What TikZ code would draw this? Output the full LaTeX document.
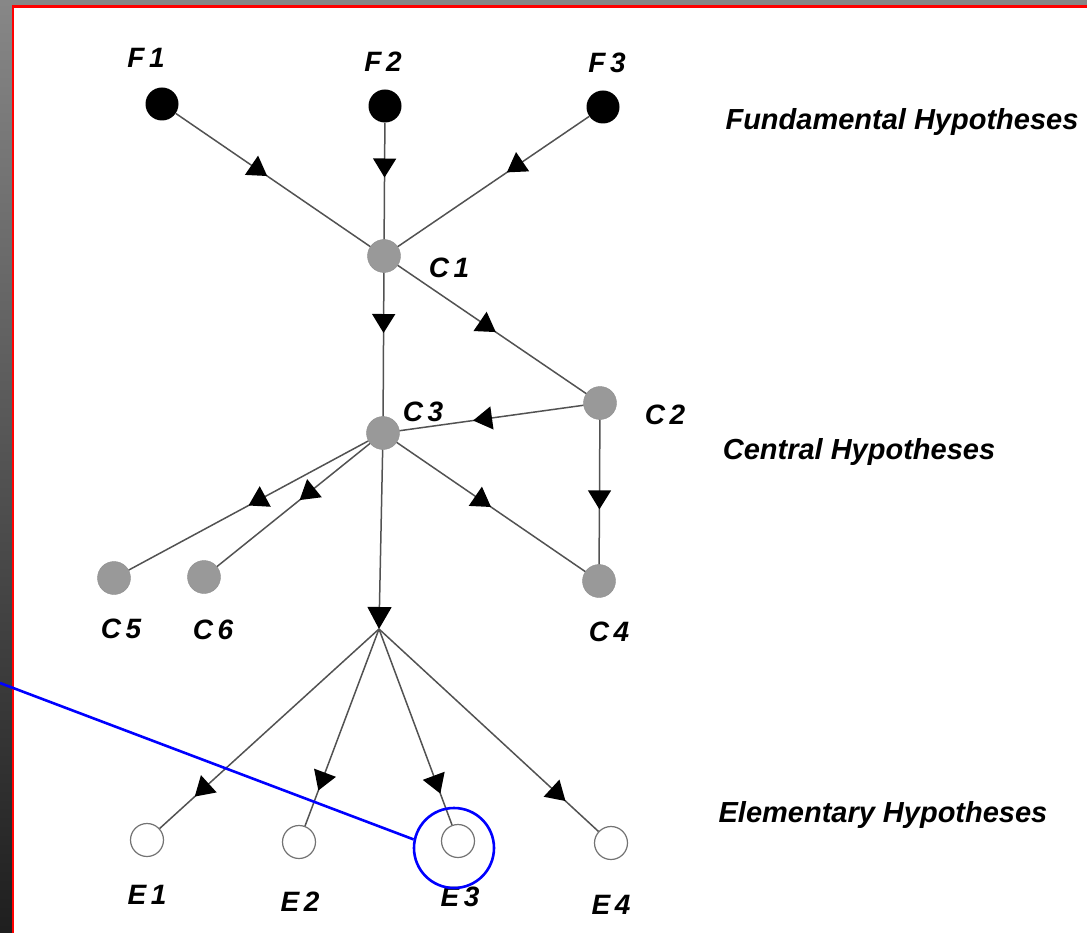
\documentclass[tikz,border=0pt]{standalone}
\usepackage{fontspec}
\setmainfont{Liberation Sans}
\usetikzlibrary{arrows.meta,positioning,decorations.markings}

\begin{document}
\begin{tikzpicture}[
  x=1pt, y=-1pt,
  every node/.style={font=\fontsize{28}{32}\selectfont\bfseries\itshape},
  fund/.style={circle, fill=black, minimum size=33pt, inner sep=0pt},
  cent/.style={circle, fill=black!40, draw=black!45, minimum size=33pt, inner sep=0pt},
  elem/.style={circle, fill=white, draw=black!55, line width=1.2pt, minimum size=33pt, inner sep=0pt},
  tag/.style={inner sep=0pt},
  level/.style={inner sep=0pt, font=\fontsize{29}{34}\selectfont\bfseries\itshape},
  edge/.style={draw=black!68, line width=1.5pt},
  arrowat/.style={postaction={decorate}, decoration={markings,
    mark=at position #1 with {\arrow[black]{Triangle[length=19pt,width=23pt]}}}},
  pointer/.style={draw=blue, line width=2.6pt}
]
\useasboundingbox (0,0) rectangle (1087,933);
% frame
\shade[top color=black!47, bottom color=black!88] (0,0) rectangle (12,933);
\fill[black!47] (0,0) rectangle (1087,5.5);
\draw[red, line width=2.5pt] (13,933) -- (13,6.75) -- (1087,6.75);

% fundamental hypotheses
\node[fund] (F1) at (162,104) {};
\node[fund] (F2) at (385,106) {};
\node[fund] (F3) at (603,107) {};
\node[tag] (lF1) at (146,58) {F\,1};
\node[tag] (lF2) at (383,62) {F\,2};
\node[tag] (lF3) at (607,63) {F\,3};

% central hypotheses
\node[cent] (C1) at (384,256) {};
\node[cent] (C2) at (600,403) {};
\node[cent] (C3) at (383,433) {};
\node[cent] (C4) at (599,581) {};
\node[cent] (C5) at (114,578) {};
\node[cent] (C6) at (204,577) {};
\node[tag] (lC1) at (449,268) {C\,1};
\node[tag] (lC2) at (665,415) {C\,2};
\node[tag] (lC3) at (423,412) {C\,3};
\node[tag] (lC4) at (609,632) {C\,4};
\node[tag] (lC5) at (121,629) {C\,5};
\node[tag] (lC6) at (213,630) {C\,6};
\coordinate (J) at (379,629);

% elementary hypotheses
\node[elem] (E1) at (147,840) {};
\node[elem] (E2) at (299,842) {};
\node[elem] (E3) at (458,841) {};
\node[elem] (E4) at (611,843) {};
\node[tag] (lE1) at (147,895) {E\,1};
\node[tag] (lE2) at (300,902) {E\,2};
\node[tag] (lE3) at (460,897) {E\,3};
\node[tag] (lE4) at (611,905) {E\,4};

% level names
\node[level] (fundname) at (902,122) {Fundamental Hypotheses};
\node[level] (centname) at (859,452) {Central Hypotheses};
\node[level] (elemname) at (883,815) {Elementary Hypotheses};

\draw[edge, arrowat=0.47] (F1) -- (C1);
\draw[edge, arrowat=0.47] (F2) -- (C1);
\draw[edge, arrowat=0.43] (F3) -- (C1);
\draw[edge, arrowat=0.42] (C1) -- (C3);
\draw[edge, arrowat=0.52] (C1) -- (C2);
\draw[edge, arrowat=0.6] (C2) -- (C3);
\draw[edge, arrowat=0.62] (C2) -- (C4);
\draw[edge, arrowat=0.5] (C3) -- (C4);
\draw[edge, arrowat=0.5] (C3) -- (C5);
\draw[edge, arrowat=0.46] (C3) -- (C6);
\draw[edge, -{Triangle[length=22pt,width=24pt,black]}] (C3) -- (J);
\draw[edge, arrowat=0.84] (J) -- (E1);
\draw[edge, arrowat=0.82] (J) -- (E2);
\draw[edge, arrowat=0.84] (J) -- (E3);
\draw[edge, arrowat=0.85] (J) -- (E4);

% highlight
\node[circle, pointer, minimum size=80pt, inner sep=0pt] (ring) at (454,848) {};
\coordinate (start) at (0,683);
\draw[pointer] (start) -- (ring.168);
\end{tikzpicture}
\end{document}
